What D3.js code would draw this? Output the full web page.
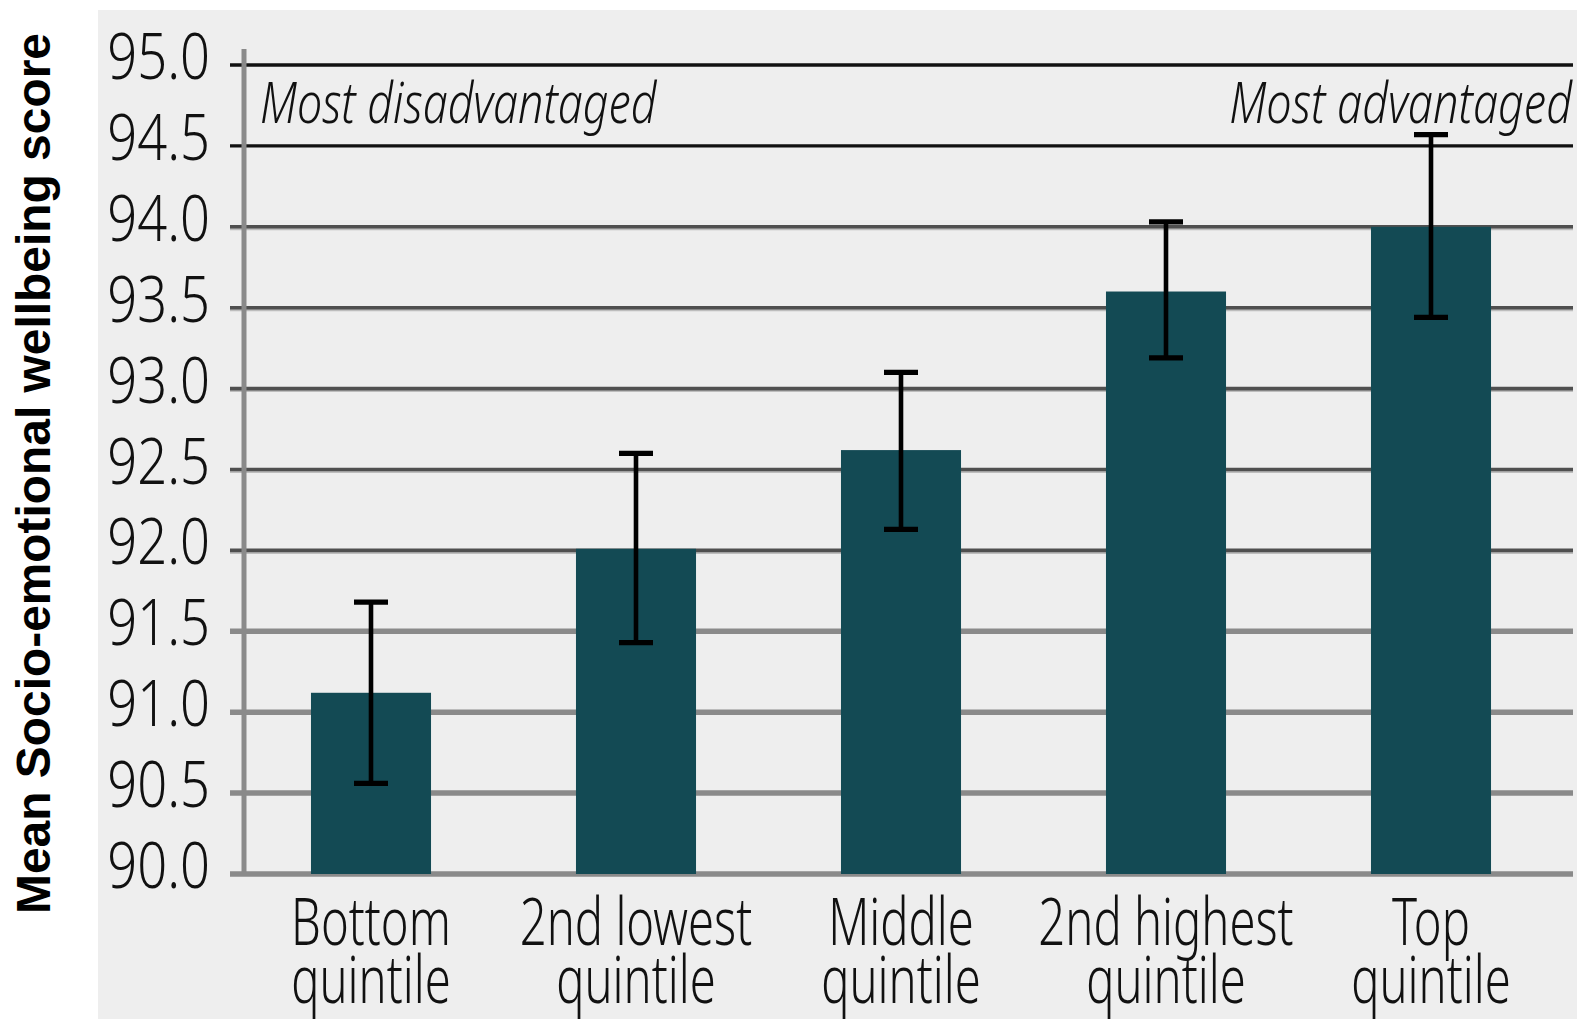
<!DOCTYPE html>
<html>
<head>
<meta charset="utf-8">
<script src="https://cdn.jsdelivr.net/npm/d3@7"></script>
<style>
  html, body { margin: 0; padding: 0; background: #ffffff; }
  svg { display: block; }
</style>
</head>
<body>
<svg id="chart" width="1577" height="1019"></svg>
<script>
const categories = [["Bottom", "quintile"], ["2nd lowest", "quintile"], ["Middle", "quintile"], ["2nd highest", "quintile"], ["Top", "quintile"]];
const meanValues = [91.12, 92.01, 92.62, 93.60, 94.00];
const errLow = [90.56, 91.43, 92.13, 93.19, 93.44];
const errHigh = [91.68, 92.60, 93.10, 94.03, 94.57];
const yTicks = [90.0, 90.5, 91.0, 91.5, 92.0, 92.5, 93.0, 93.5, 94.0, 94.5, 95.0];
const yTitle = "Mean Socio-emotional wellbeing score";
const leftNote = "Most disadvantaged";
const rightNote = "Most advantaged";

const svg = d3.select("#chart");
const W = 1577, H = 1019;

svg.append("rect").attr("x", 98).attr("y", 10).attr("width", W - 98).attr("height", H - 10).attr("fill", "#eeeeee");

const keys = categories.map(c => c.join(" "));
const x = d3.scaleBand().domain(keys).range([238.5, 1563.5]).paddingInner(0.547).paddingOuter(0.2735);
const y = d3.scaleLinear().domain([90, 95]).range([874, 65]);

function gridColor(v) {
  if (v >= 94.5) return "#111111";
  if (v >= 92.0) return "#4f4f4f";
  return "#8a8a8a";
}
function gridWidth(v) {
  if (v >= 94.5) return 3.4;
  if (v >= 92.0) return 3.6;
  return 5.5;
}

// grid lines
const grid = svg.append("g");
yTicks.forEach(v => {
  if (v >= 92.0 && v < 94.5) {
    grid.append("line").attr("x1", 230).attr("x2", 1573).attr("y1", y(v) + 2.4).attr("y2", y(v) + 2.4)
      .attr("stroke", "#bdbdbd").attr("stroke-width", 2.2);
  }
  grid.append("line").attr("x1", 230).attr("x2", 1573).attr("y1", y(v)).attr("y2", y(v))
    .attr("stroke", gridColor(v)).attr("stroke-width", gridWidth(v));
});

// y axis line
svg.append("line").attr("x1", 244).attr("x2", 244).attr("y1", 49).attr("y2", y(90) + 2)
  .attr("stroke", "#8a8a8a").attr("stroke-width", 5);

// bars
svg.append("g").selectAll("rect").data(meanValues).join("rect")
  .attr("x", (d, i) => x(keys[i]))
  .attr("width", x.bandwidth())
  .attr("y", d => y(d))
  .attr("height", d => y(90) - y(d))
  .attr("fill", "#134a54");

// error bars
const eb = svg.append("g").attr("stroke", "#000").attr("fill", "none");
meanValues.forEach((d, i) => {
  const cx = x(keys[i]) + x.bandwidth() / 2;
  eb.append("line").attr("x1", cx).attr("x2", cx).attr("y1", y(errHigh[i])).attr("y2", y(errLow[i])).attr("stroke-width", 4.6);
  [errHigh[i], errLow[i]].forEach(v => {
    eb.append("line").attr("x1", cx - 17).attr("x2", cx + 17).attr("y1", y(v)).attr("y2", y(v)).attr("stroke-width", 5.2);
  });
});

// y tick labels
const tickFont = "'Noto Sans', 'Open Sans', sans-serif";
yTicks.forEach(v => {
  svg.append("g").attr("transform", `translate(210,${y(v) + 14}) scale(0.82,1)`)
    .append("text").attr("text-anchor", "end")
    .attr("font-family", tickFont).attr("font-size", 64).attr("font-weight", 300).attr("fill", "#111")
    .text(v.toFixed(1));
});

// x labels
categories.forEach((c, i) => {
  const cx = x(keys[i]) + x.bandwidth() / 2;
  c.forEach((line, j) => {
    svg.append("g").attr("transform", `translate(${cx},${945 + j * 58}) scale(0.715,1)`)
      .append("text").attr("text-anchor", "middle")
      .attr("font-family", tickFont).attr("font-size", 66).attr("font-weight", 300).attr("fill", "#111")
      .text(line);
  });
});

// notes
svg.append("g").attr("transform", `translate(260,123) scale(0.786,1)`)
  .append("text").attr("text-anchor", "start").attr("font-style", "italic").attr("font-weight", 300)
  .attr("font-family", tickFont).attr("font-size", 57).attr("fill", "#111").text(leftNote);
svg.append("g").attr("transform", `translate(1572,123) scale(0.79,1)`)
  .append("text").attr("text-anchor", "end").attr("font-style", "italic").attr("font-weight", 300)
  .attr("font-family", tickFont).attr("font-size", 57).attr("fill", "#111").text(rightNote);

// y title
svg.append("text")
  .attr("transform", `translate(50,473.5) rotate(-90)`)
  .attr("text-anchor", "middle")
  .attr("font-family", "'Liberation Sans', Arial, sans-serif")
  .attr("font-weight", "bold").attr("font-size", 47.9).attr("fill", "#000")
  .text(yTitle);
</script>
</body>
</html>
